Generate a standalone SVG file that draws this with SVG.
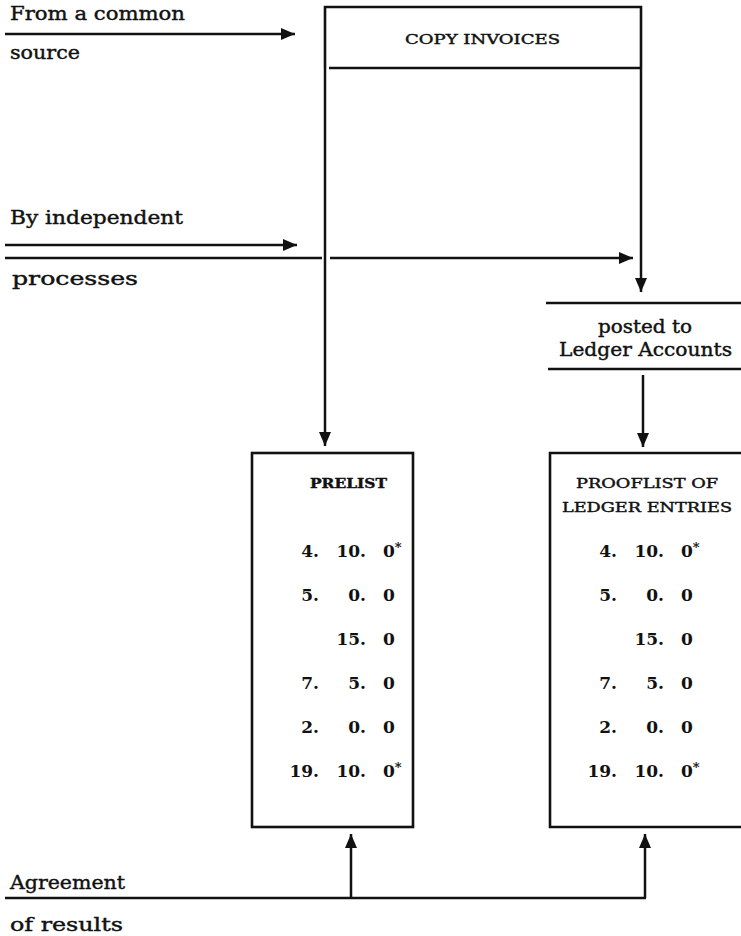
<svg xmlns="http://www.w3.org/2000/svg" width="741" height="936" viewBox="0 0 741 936">
<style>
.ln{stroke:#111;stroke-width:2.5;fill:none}
.bx{stroke:#111;stroke-width:2.6;fill:none}
.lab{font-family:"DejaVu Serif","Liberation Serif",serif;font-size:18px;fill:#111;stroke:#111;stroke-width:0.4}
.cap{font-family:"DejaVu Serif","Liberation Serif",serif;font-size:12.5px;fill:#111;stroke:#111;stroke-width:0.4}
.num{font-family:"DejaVu Serif","Liberation Serif",serif;font-size:17px;font-weight:bold;fill:#111}
.st{font-size:13px}
</style>
<defs>
<marker id="ah" markerUnits="userSpaceOnUse" markerWidth="16" markerHeight="14" refX="14" refY="6.5" orient="auto">
<path d="M0,0.5 L14,6.5 L0,12.5 z" fill="#111"/>
</marker>
</defs>
<rect width="741" height="936" fill="#fff"/>

<g id="connectors">
<line class="ln" x1="5" y1="34" x2="295" y2="34" marker-end="url(#ah)"/>
<line class="ln" x1="5" y1="245" x2="297" y2="245" marker-end="url(#ah)"/>
<line class="ln" x1="5" y1="258" x2="322" y2="258"/>
<line class="ln" x1="330" y1="258" x2="633" y2="258" marker-end="url(#ah)"/>
<line class="ln" x1="325" y1="68" x2="325" y2="446" marker-end="url(#ah)"/>
<line class="ln" x1="641" y1="68" x2="641" y2="292" marker-end="url(#ah)"/>
<line class="ln" x1="643" y1="375" x2="643" y2="447" marker-end="url(#ah)"/>
<line class="ln" x1="5" y1="898" x2="646" y2="898"/>
<line class="ln" x1="351" y1="898" x2="351" y2="834" marker-end="url(#ah)"/>
<line class="ln" x1="645" y1="898" x2="645" y2="834" marker-end="url(#ah)"/>
</g>

<g id="labels">
<text class="lab" x="10" y="20" textLength="175" lengthAdjust="spacingAndGlyphs">From a common</text>
<text class="lab" x="10" y="59" textLength="70" lengthAdjust="spacingAndGlyphs">source</text>
<text class="lab" x="10" y="224" textLength="173" lengthAdjust="spacingAndGlyphs">By independent</text>
<text class="lab" x="12" y="285" textLength="126" lengthAdjust="spacingAndGlyphs">processes</text>
<text class="lab" x="10" y="889" textLength="115" lengthAdjust="spacingAndGlyphs">Agreement</text>
<text class="lab" x="10" y="931" textLength="113" lengthAdjust="spacingAndGlyphs">of results</text>
</g>

<g id="copy-invoices">
<path class="bx" d="M325,68 V7 H641 V68"/>
<line class="ln" x1="329" y1="68" x2="640" y2="68"/>
<text class="cap" x="405" y="44" textLength="155" lengthAdjust="spacingAndGlyphs">COPY INVOICES</text>
</g>

<g id="posted">
<line class="ln" x1="546" y1="303" x2="745" y2="303"/>
<line class="ln" x1="548" y1="369" x2="745" y2="369"/>
<text class="lab" x="598" y="333" textLength="94" lengthAdjust="spacingAndGlyphs">posted to</text>
<text class="lab" x="559" y="356" textLength="173" lengthAdjust="spacingAndGlyphs">Ledger Accounts</text>
</g>

<g id="prelist">
<rect class="bx" x="252" y="453" width="161" height="374"/>
<text class="cap" x="310" y="488" font-weight="bold" textLength="77" lengthAdjust="spacingAndGlyphs">PRELIST</text>
<g class="num">
<text x="319" y="557" text-anchor="end">4.</text><text x="366" y="557" text-anchor="end">10.</text><text x="383" y="557">0<tspan class="st" dy="-5">*</tspan></text>
<text x="319" y="601" text-anchor="end">5.</text><text x="366" y="601" text-anchor="end">0.</text><text x="383" y="601">0</text>
<text x="366" y="645" text-anchor="end">15.</text><text x="383" y="645">0</text>
<text x="319" y="689" text-anchor="end">7.</text><text x="366" y="689" text-anchor="end">5.</text><text x="383" y="689">0</text>
<text x="319" y="733" text-anchor="end">2.</text><text x="366" y="733" text-anchor="end">0.</text><text x="383" y="733">0</text>
<text x="319" y="777" text-anchor="end">19.</text><text x="366" y="777" text-anchor="end">10.</text><text x="383" y="777">0<tspan class="st" dy="-5">*</tspan></text>
</g>
</g>

<g id="prooflist">
<path class="bx" d="M750,453 H550 V827 H750"/>
<text class="cap" x="576" y="488" textLength="142" lengthAdjust="spacingAndGlyphs">PROOFLIST OF</text>
<text class="cap" x="562" y="512" textLength="170" lengthAdjust="spacingAndGlyphs">LEDGER ENTRIES</text>
<g class="num">
<text x="617" y="557" text-anchor="end">4.</text><text x="664" y="557" text-anchor="end">10.</text><text x="681" y="557">0<tspan class="st" dy="-5">*</tspan></text>
<text x="617" y="601" text-anchor="end">5.</text><text x="664" y="601" text-anchor="end">0.</text><text x="681" y="601">0</text>
<text x="664" y="645" text-anchor="end">15.</text><text x="681" y="645">0</text>
<text x="617" y="689" text-anchor="end">7.</text><text x="664" y="689" text-anchor="end">5.</text><text x="681" y="689">0</text>
<text x="617" y="733" text-anchor="end">2.</text><text x="664" y="733" text-anchor="end">0.</text><text x="681" y="733">0</text>
<text x="617" y="777" text-anchor="end">19.</text><text x="664" y="777" text-anchor="end">10.</text><text x="681" y="777">0<tspan class="st" dy="-5">*</tspan></text>
</g>
</g>
</svg>
